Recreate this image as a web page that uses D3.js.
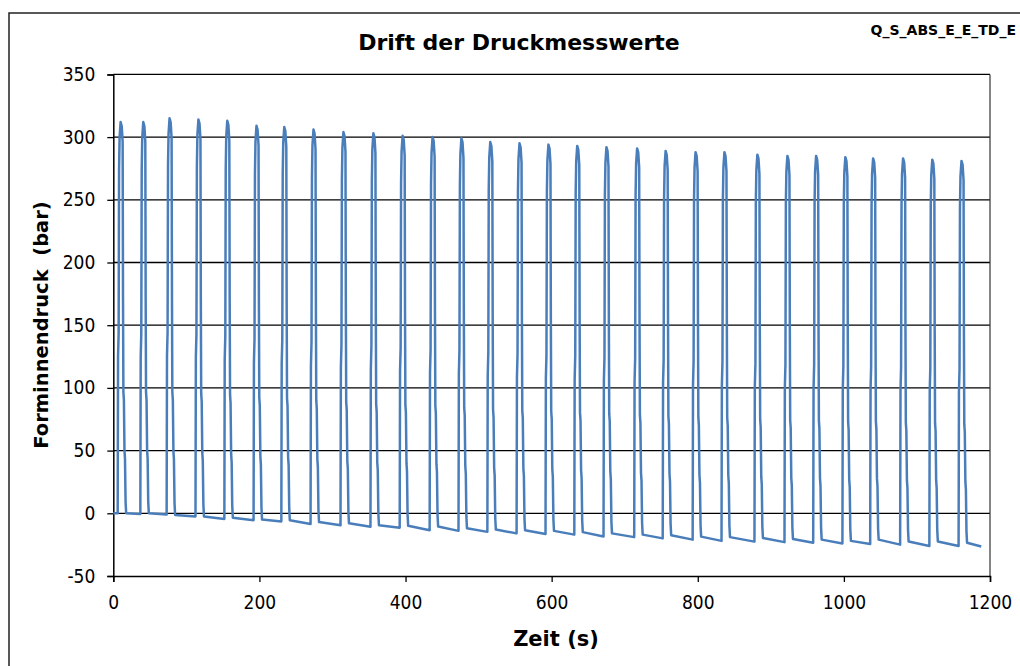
<!DOCTYPE html>
<html>
<head>
<meta charset="utf-8">
<script src="https://d3js.org/d3.v7.min.js"></script>
<style>
  body { margin: 0; background: #fff; }
  text { font-family: "DejaVu Sans", sans-serif; fill: #000; }
</style>
</head>
<body>
<svg id="chart"></svg>
<script>
// rise time of each cycle (s)
var cycleStart = [6, 37, 73, 112.5, 152, 192, 230, 270, 311, 352, 392, 433, 472.5, 512, 552,
  591.6, 631, 671, 713, 752, 793, 832.5, 877.6, 918.7, 958, 998, 1036, 1077, 1117, 1157];
// peak pressure of each cycle (bar)
var peakValue = [312, 312, 315, 314, 313, 309, 308, 306, 304, 303, 301, 300, 299, 296, 295,
  294, 293, 292, 291, 289, 288, 288, 286, 285, 285, 284, 283, 283, 282, 281];
// baseline right after each cycle and just before the next rise (bar)
var baseStart = [0, 0, -1.3, -2.5, -3.5, -5, -5.5, -7, -8, -9.5, -10, -10.5, -12, -13, -13.5,
  -14, -15, -16, -17, -17.5, -18.6, -19, -19.7, -20.5, -21, -22, -21, -22.5, -22.5, -23.5];
var baseEnd = [-0.5, -1, -2.5, -4.5, -5.5, -6.5, -8.5, -9.5, -10.7, -11.5, -13.5, -14, -14.8, -16, -16.5,
  -17, -18.5, -19, -20, -21, -22, -22.6, -23, -23.5, -24, -24.5, -25, -26, -26, -26.5];
// typical pulse shape: seconds after rise, share of the peak height
var shapeTime = [0, 0.5, 1.3, 1.9, 2.6, 4.0, 5.5, 6.8, 7.3, 7.8, 8.5, 9.3, 10.0, 10.8, 11.6];
var shapeFrac = [0, 0.40, 0.46, 0.88, 0.96, 1.0, 0.99, 0.95, 0.55, 0.31, 0.29, 0.16, 0.14, 0.03, 0];
var endTime = 1188;

var yTicks = [-50, 0, 50, 100, 150, 200, 250, 300, 350];
var xTicks = [0, 200, 400, 600, 800, 1000, 1200];

var w = 1020;
var h = 666;

var svg = d3.select("#chart")
  .attr("width", w)
  .attr("height", h);

var x = d3.scaleLinear().domain([0, 1200]).range([113.3, 990]);
var y = d3.scaleLinear().domain([-50, 350]).range([576, 74.4]);

// build the series
var points = [[0, 0]];
cycleStart.forEach(function(t, i) {
  var pre = i == 0 ? 0 : baseEnd[i - 1];
  var post = baseStart[i];
  shapeTime.forEach(function(dt, k) {
    var b = dt <= 5.5 ? pre : post;
    points.push([t + dt, b + shapeFrac[k] * (peakValue[i] - b)]);
  });
  var next = i < cycleStart.length - 1 ? cycleStart[i + 1] : endTime;
  points.push([next, baseEnd[i]]);
});

// outer frame
svg.append("rect")
  .attr("x", 9)
  .attr("y", 13)
  .attr("width", 1040)
  .attr("height", 700)
  .attr("fill", "none")
  .attr("stroke", "#222")
  .attr("stroke-width", 1.5);

// gridlines
svg.append("g")
  .selectAll("line")
  .data(yTicks.filter(function(d) { return d > -50; }))
  .enter()
  .append("line")
  .attr("x1", x(0))
  .attr("x2", x(1200))
  .attr("y1", function(d) { return y(d); })
  .attr("y2", function(d) { return y(d); })
  .attr("stroke", "#000")
  .attr("stroke-width", 1.3);

svg.append("line")
  .attr("x1", x(1200))
  .attr("x2", x(1200))
  .attr("y1", y(350))
  .attr("y2", y(-50))
  .attr("stroke", "#333")
  .attr("stroke-width", 1.2);

var fmt = function(d) { return String(d); };

var yAxis = svg.append("g")
  .attr("transform", "translate(" + x(0) + ",0)")
  .call(d3.axisLeft(y).tickValues(yTicks).tickFormat(fmt).tickSize(6).tickPadding(12));

var xAxis = svg.append("g")
  .attr("transform", "translate(0," + y(-50) + ")")
  .call(d3.axisBottom(x).tickValues(xTicks).tickFormat(fmt).tickSize(6).tickPadding(14));

[yAxis, xAxis].forEach(function(g) {
  g.select(".domain").attr("stroke", "#000").attr("stroke-width", 1.5);
  g.selectAll(".tick line").attr("stroke", "#000").attr("stroke-width", 1.3);
  g.selectAll(".tick text")
    .style("font-family", "'DejaVu Sans Condensed', 'DejaVu Sans', sans-serif")
    .style("font-size", "19px")
    .attr("fill", "#000");
});

// series
svg.append("path")
  .datum(points)
  .attr("fill", "none")
  .attr("stroke", "#4a7ebb")
  .attr("stroke-width", 2.5)
  .attr("stroke-linejoin", "round")
  .attr("d", d3.line()
    .x(function(d) { return x(d[0]); })
    .y(function(d) { return y(d[1]); }));

// titles
svg.append("text")
  .attr("x", 519)
  .attr("y", 50)
  .attr("text-anchor", "middle")
  .style("font-size", "22px")
  .style("font-weight", "bold")
  .text("Drift der Druckmesswerte");

svg.append("text")
  .attr("x", 1016)
  .attr("y", 35)
  .attr("text-anchor", "end")
  .style("font-size", "14px")
  .style("font-weight", "bold")
  .text("Q_S_ABS_E_E_TD_E");

svg.append("text")
  .attr("x", 556)
  .attr("y", 646)
  .attr("text-anchor", "middle")
  .style("font-size", "21px")
  .style("font-weight", "bold")
  .text("Zeit (s)");

svg.append("text")
  .attr("transform", "translate(48,325) rotate(-90)")
  .attr("text-anchor", "middle")
  .style("font-size", "19.5px")
  .style("font-weight", "bold")
  .style("white-space", "pre")
  .text("Forminnendruck  (bar)");
</script>
</body>
</html>
